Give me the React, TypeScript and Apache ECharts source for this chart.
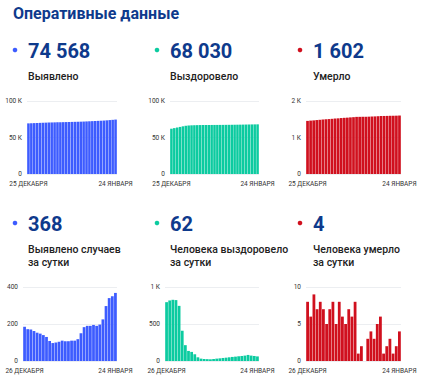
import React, { useEffect, useRef } from "react";
import * as echarts from "echarts";

// ---- data ----
const daysTop = [
  "25 ДЕКАБРЯ", "26 ДЕКАБРЯ", "27 ДЕКАБРЯ", "28 ДЕКАБРЯ", "29 ДЕКАБРЯ", "30 ДЕКАБРЯ", "31 ДЕКАБРЯ",
  "1 ЯНВАРЯ", "2 ЯНВАРЯ", "3 ЯНВАРЯ", "4 ЯНВАРЯ", "5 ЯНВАРЯ", "6 ЯНВАРЯ", "7 ЯНВАРЯ", "8 ЯНВАРЯ",
  "9 ЯНВАРЯ", "10 ЯНВАРЯ", "11 ЯНВАРЯ", "12 ЯНВАРЯ", "13 ЯНВАРЯ", "14 ЯНВАРЯ", "15 ЯНВАРЯ",
  "16 ЯНВАРЯ", "17 ЯНВАРЯ", "18 ЯНВАРЯ", "19 ЯНВАРЯ", "20 ЯНВАРЯ", "21 ЯНВАРЯ", "22 ЯНВАРЯ",
  "23 ЯНВАРЯ", "24 ЯНВАРЯ",
];
const daysBottom = [
  "26 ДЕКАБРЯ", "27 ДЕКАБРЯ", "28 ДЕКАБРЯ", "29 ДЕКАБРЯ", "30 ДЕКАБРЯ", "31 ДЕКАБРЯ",
  "1 ЯНВАРЯ", "2 ЯНВАРЯ", "3 ЯНВАРЯ", "4 ЯНВАРЯ", "5 ЯНВАРЯ", "6 ЯНВАРЯ", "7 ЯНВАРЯ", "8 ЯНВАРЯ",
  "9 ЯНВАРЯ", "10 ЯНВАРЯ", "11 ЯНВАРЯ", "12 ЯНВАРЯ", "13 ЯНВАРЯ", "14 ЯНВАРЯ", "15 ЯНВАРЯ",
  "16 ЯНВАРЯ", "17 ЯНВАРЯ", "18 ЯНВАРЯ", "19 ЯНВАРЯ", "20 ЯНВАРЯ", "21 ЯНВАРЯ", "22 ЯНВАРЯ",
  "23 ЯНВАРЯ", "24 ЯНВАРЯ",
];

const casesTotal = [
  69362, 69547, 69719, 69889, 70051, 70204, 70352, 70492, 70622, 70730, 70827, 70927, 71031,
  71141, 71248, 71355, 71465, 71575, 71693, 71843, 72026, 72216, 72406, 72601, 72791, 72988,
  73213, 73510, 73850, 74200, 74568,
];
const recoveredTotal = [
  62057, 62852, 63670, 64497, 65320, 66065, 66474, 66688, 66824, 66947, 67038, 67088, 67120,
  67147, 67172, 67195, 67222, 67254, 67290, 67331, 67376, 67426, 67481, 67540, 67604, 67672,
  67745, 67827, 67900, 67968, 68030,
];
const deathsTotal = [
  1455, 1463, 1469, 1478, 1485, 1493, 1500, 1505, 1512, 1520, 1525, 1533, 1539, 1544, 1551,
  1557, 1565, 1566, 1568, 1568, 1571, 1575, 1578, 1583, 1589, 1590, 1592, 1595, 1596, 1598, 1602,
];
const casesDaily = [
  185, 172, 170, 162, 153, 148, 140, 130, 108, 97, 100, 104, 110, 107, 107, 110, 110, 118, 150,
  183, 190, 190, 195, 190, 197, 225, 297, 340, 350, 368,
];
const recoveredDaily = [
  795, 818, 827, 823, 745, 409, 214, 136, 123, 91, 50, 32, 27, 25, 23, 27, 32, 36, 41, 45, 50,
  55, 59, 64, 68, 73, 82, 73, 68, 62,
];
const deathsDaily = [
  8, 6, 9, 7, 8, 7, 5, 7, 8, 5, 8, 6, 5, 7, 6, 8, 1, 2, 0, 3, 4, 3, 5, 6, 1, 2, 3, 1, 2, 4,
];

const headlineValues = ["74 568", "68 030", "1 602", "368", "62", "4"];
const headlineLabels = [
  ["Выявлено"],
  ["Выздоровело"],
  ["Умерло"],
  ["Выявлено случаев", "за сутки"],
  ["Человека выздоровело", "за сутки"],
  ["Человека умерло", "за сутки"],
];
const titleText = "Оперативные данные";

const yTicksCasesTotal = ["0", "50 К", "100 К"];
const yTicksRecoveredTotal = ["0", "50 К", "100 К"];
const yTicksDeathsTotal = ["0", "1 К", "2 К"];
const yTicksCasesDaily = ["0", "200", "400"];
const yTicksRecoveredDaily = ["0", "500", "1 К"];
const yTicksDeathsDaily = ["0", "5", "10"];

const BLUE = "#3d5cff";
const GREEN = "#0ccba0";
const RED = "#d0101e";
const NAVY = "#0e3a8c";
const FONT = "Roboto, 'Noto Sans', sans-serif";

export default function App() {
  const ref = useRef<HTMLDivElement>(null);

  useEffect(() => {
    if (!ref.current) return;
    const chart = echarts.init(ref.current, undefined, { renderer: "svg" });

    const panels = [
      { cats: daysTop, data: casesTotal, ticks: yTicksCasesTotal, interval: 50000, color: BLUE, grid: { left: 27, top: 101, width: 90, height: 73 } },
      { cats: daysTop, data: recoveredTotal, ticks: yTicksRecoveredTotal, interval: 50000, color: GREEN, grid: { left: 170, top: 101, width: 89, height: 73 } },
      { cats: daysTop, data: deathsTotal, ticks: yTicksDeathsTotal, interval: 1000, color: RED, grid: { left: 306, top: 101, width: 95, height: 73 } },
      { cats: daysBottom, data: casesDaily, ticks: yTicksCasesDaily, interval: 200, color: BLUE, grid: { left: 23, top: 287, width: 94, height: 74 } },
      { cats: daysBottom, data: recoveredDaily, ticks: yTicksRecoveredDaily, interval: 500, color: GREEN, grid: { left: 165, top: 287, width: 94, height: 74 } },
      { cats: daysBottom, data: deathsDaily, ticks: yTicksDeathsDaily, interval: 5, color: RED, grid: { left: 306, top: 287, width: 95, height: 74 } },
    ];

    const colX = [15, 157, 300];
    const rowY = [50, 223];
    const colors = [BLUE, GREEN, RED];

    const graphic: any[] = [
      {
        type: "text",
        x: 13,
        y: 13,
        style: {
          text: titleText,
          fill: NAVY,
          fontSize: 16,
          fontWeight: "bold",
          fontFamily: FONT,
          textAlign: "left",
          textVerticalAlign: "middle",
          align: "left",
          verticalAlign: "middle",
        },
      },
    ];

    for (let i = 0; i < 6; i++) {
      const c = i % 3;
      const r = Math.floor(i / 3);
      const cx = colX[c];
      const cy = rowY[r];
      graphic.push({
        type: "circle",
        shape: { cx, cy, r: 2.3 },
        style: { fill: colors[c] },
      });
      graphic.push({
        type: "text",
        x: cx + 13,
        y: cy + 0.5,
        style: {
          text: headlineValues[i],
          fill: NAVY,
          fontSize: 20,
          fontWeight: "bold",
          fontFamily: FONT,
          textAlign: "left",
          textVerticalAlign: "middle",
          align: "left",
          verticalAlign: "middle",
        },
      });
      headlineLabels[i].forEach((line, k) => {
        graphic.push({
          type: "text",
          x: cx + 13,
          y: cy + 26 + k * 13.5,
          style: {
            text: line,
            fill: "#222",
            fontSize: 10.5,
            fontWeight: 500,
            fontFamily: FONT,
            textAlign: "left",
            textVerticalAlign: "middle",
            align: "left",
            verticalAlign: "middle",
          },
        });
      });
    }

    const option: any = {
      animation: false,
      backgroundColor: "#fff",
      textStyle: { fontFamily: FONT },
      graphic,
      grid: panels.map((p) => ({ ...p.grid, containLabel: false })),
      xAxis: panels.map((p, i) => ({
        type: "category",
        gridIndex: i,
        data: p.cats,
        axisTick: { show: false },
        axisLine: { show: false },
        axisLabel: {
          interval: (idx: number) => idx === 0 || idx === p.cats.length - 1,
          fontSize: 6.5,
          color: "#333",
          margin: 6,
          fontFamily: FONT,
        },
        splitLine: { show: false },
      })),
      yAxis: panels.map((p, i) => ({
        type: "value",
        gridIndex: i,
        min: 0,
        max: p.interval * 2,
        interval: p.interval,
        axisLine: { show: false },
        axisTick: { show: false },
        axisLabel: {
          fontSize: 6.5,
          color: "#333",
          margin: 5,
          fontFamily: FONT,
          formatter: (v: number) => p.ticks[Math.round(v / p.interval)] ?? "",
        },
        splitLine: { show: true, lineStyle: { color: "#eceef1", width: 1 } },
      })),
      series: panels.map((p, i) => ({
        type: "bar",
        xAxisIndex: i,
        yAxisIndex: i,
        data: p.data,
        barCategoryGap: "12%",
        itemStyle: { color: p.color },
      })),
    };

    chart.setOption(option);
    return () => chart.dispose();
  }, []);

  return (
    <div
      ref={ref}
      style={{ position: "fixed", left: 0, top: 0, width: 430, height: 384, background: "#fff" }}
    />
  );
}
